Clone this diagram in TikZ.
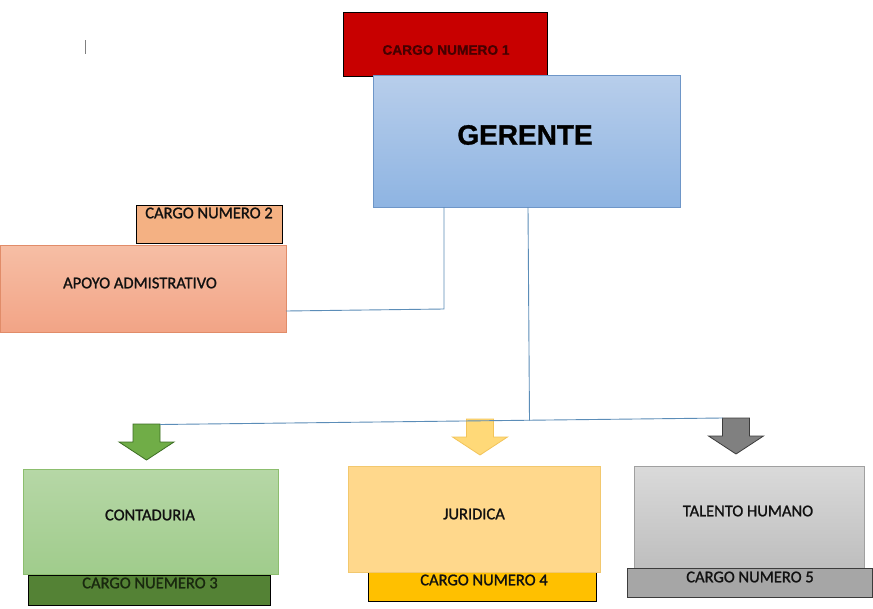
\documentclass[tikz,border=0pt]{standalone}
\usepackage{fontspec}
\setmainfont{Carlito}
\newfontfamily\medfont[FakeBold=1.2]{Carlito}
\newfontfamily\arialfont[FakeBold=1]{Liberation Sans}
\definecolor{conncol}{HTML}{5B8DB8}
\definecolor{txt}{HTML}{111111}
\tikzset{
  box/.style={rectangle, inner sep=0pt, line width=0.8pt},
  lbl/.style={inner sep=0pt, text=txt, font=\medfont\fontsize{16.5}{18}\selectfont},
  conn/.style={draw=conncol, line width=0.9pt},
}
\newcommand{\fatarrow}[4]{%
  \filldraw[fill=#3, draw=#4, line width=0.8pt, line join=miter]
    (#1-13.5,#2) -- (#1+13.5,#2) -- (#1+13.5,#2+18) -- (#1+27.5,#2+18)
    -- (#1,#2+36) -- (#1-27.5,#2+18) -- (#1-13.5,#2+18) -- cycle;}
\begin{document}
\begin{tikzpicture}[x=1pt,y=-1pt]
\useasboundingbox[fill=white] (0,0) rectangle (873,608);
% cursor mark
\draw[gray, line width=0.8pt] (85,40) -- (85,54);

% CARGO NUMERO 1
\node[box, draw=black, fill={rgb,255:red,200;green,0;blue,0}, minimum width=204pt, minimum height=64pt] (c1) at (445,44) {};
\node[inner sep=0pt, text={rgb,255:red,70;green,0;blue,0}, font=\arialfont\bfseries\fontsize{13.7}{15}\selectfont] (c1t) at (446,50) {CARGO NUMERO 1};

% GERENTE
\node[box, draw={rgb,255:red,110;green,150;blue,200}, top color={rgb,255:red,184;green,206;blue,235}, bottom color={rgb,255:red,142;green,180;blue,226}, minimum width=307pt, minimum height=132pt] (g) at (526.5,141) {};
\node[inner sep=0pt, text=black, font=\arialfont\bfseries\fontsize{28}{32}\selectfont] (gt) at (525,135) {GERENTE};

% CARGO NUMERO 2 / APOYO
\node[box, draw=black, fill={rgb,255:red,244;green,177;blue,131}, minimum width=146pt, minimum height=38pt] (c2) at (209,224) {};
\node[lbl] (c2t) at (209,213) {CARGO NUMERO 2};
\node[box, draw={rgb,255:red,225;green,140;blue,105}, top color={rgb,255:red,246;green,190;blue,165}, bottom color={rgb,255:red,242;green,164;blue,134}, minimum width=286pt, minimum height=87pt] (ap) at (143,288.5) {};
\node[lbl] (apt) at (140,283) {APOYO ADMISTRATIVO};

% arrows
\fatarrow{146.5}{424}{{rgb,255:red,112;green,173;blue,71}}{{rgb,255:red,60;green,110;blue,35}}
\fatarrow{480}{419}{{rgb,255:red,255;green,217;blue,120}}{{rgb,255:red,242;green,196;blue,90}}
\fatarrow{736}{418}{{rgb,255:red,128;green,128;blue,128}}{{rgb,255:red,60;green,60;blue,60}}

% connectors
\coordinate (g1) at (444,207);
\coordinate (g2) at (528,207);
\coordinate (a1) at (286,311);
\coordinate (ga) at (160,424.5);
\coordinate (gra) at (722.5,418);
\coordinate (j) at (529.5,420.5);
\draw[conn] (g1) -- (444,309) -- (a1);
\draw[conn] (g2) -- (j);
\draw[conn] (ga) -- (gra);

% CONTADURIA
\node[box, draw={rgb,255:red,140;green,190;blue,110}, top color={rgb,255:red,182;green,215;blue,166}, bottom color={rgb,255:red,160;green,204;blue,140}, minimum width=255pt, minimum height=105pt] (co) at (150.5,521.5) {};
\node[lbl] (cot) at (150,515) {CONTADURIA};
\node[box, draw=black, fill={rgb,255:red,84;green,130;blue,53}, minimum width=242pt, minimum height=30pt] (c3) at (149,590) {};
\node[lbl, text={rgb,255:red,25;green,40;blue,15}] (c3t) at (150,583) {CARGO NUEMERO 3};

% JURIDICA
\node[box, draw=black, fill={rgb,255:red,255;green,192;blue,0}, minimum width=228pt, minimum height=30pt] (c4) at (482,586) {};
\node[box, draw={rgb,255:red,242;green,200;blue,110}, fill={rgb,255:red,255;green,216;blue,140}, minimum width=252pt, minimum height=106pt] (ju) at (474,519) {};
\node[lbl] (jut) at (474,514) {JURIDICA};
\node[lbl] (c4t) at (484,580) {CARGO NUMERO 4};

% TALENTO HUMANO
\node[box, draw={rgb,255:red,160;green,160;blue,160}, top color={rgb,255:red,218;green,218;blue,218}, bottom color={rgb,255:red,190;green,190;blue,190}, minimum width=230pt, minimum height=102pt] (th) at (749,517) {};
\node[lbl] (tht) at (748,511) {TALENTO HUMANO};
\node[box, draw={rgb,255:red,60;green,60;blue,60}, fill={rgb,255:red,166;green,166;blue,166}, minimum width=245pt, minimum height=29pt] (c5) at (749.5,582.5) {};
\node[lbl] (c5t) at (750,577) {CARGO NUMERO 5};
\end{tikzpicture}
\end{document}
